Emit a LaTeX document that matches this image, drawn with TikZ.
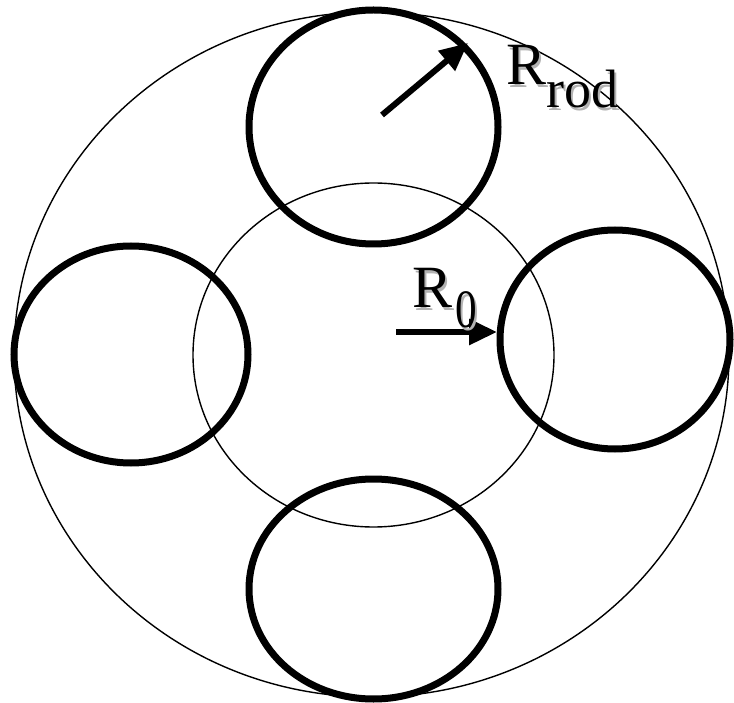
\documentclass[tikz,border=0pt]{standalone}
\usepackage{fontspec}
\setmainfont{Liberation Serif}
\usetikzlibrary{arrows.meta}
\tikzset{
  thinring/.style={line width=1.4pt},
  rodring/.style={line width=7pt},
  radarrow/.style={line width=6pt, -{Triangle[length=28pt,width=25pt]}},
  lbl/.style={anchor=base west, inner sep=0pt, outer sep=0pt, font=\fontsize{60}{60}\selectfont},
}
\newcommand{\subsz}{\fontsize{54}{54}\selectfont}
\newcommand{\withshadow}[1]{\rlap{\kern2.5pt\lower2.5pt\hbox{\color{black!30}#1}}#1}
\begin{document}
\begin{tikzpicture}[x=1pt,y=-1pt]
\useasboundingbox (0,0) rectangle (734,703);
% outer and inner circles
\draw[thinring] (371.5,354.5) ellipse [x radius=357.5pt, y radius=342.5pt];
\draw[thinring] (373.5,355) ellipse [x radius=180.5pt, y radius=172pt];
% rods
\draw[rodring] (373.5,127) ellipse [x radius=124.5pt, y radius=117pt];
\draw[rodring] (131,354.5) ellipse [x radius=117pt, y radius=108.5pt];
\draw[rodring] (615,339.5) ellipse [x radius=115pt, y radius=109.5pt];
\draw[rodring] (373.5,589) ellipse [x radius=124.5pt, y radius=110pt];
% arrows
\coordinate (rodstart) at (382,115);
\coordinate (rodtip) at (468,43);
\coordinate (r0start) at (396,332);
\coordinate (r0tip) at (497,332);
\draw[radarrow] (rodstart) -- (rodtip);
\draw[radarrow] (r0start) -- (r0tip);
% labels (with shadow)
\node[lbl] (rrod) at (506,85) {\withshadow{R\lower23pt\hbox{\subsz rod}}};
\node[lbl] (r0) at (412,308) {\withshadow{R\kern3pt\lower20pt\hbox{\subsz\scalebox{0.8}[1]{0}}}};
\end{tikzpicture}
\end{document}
